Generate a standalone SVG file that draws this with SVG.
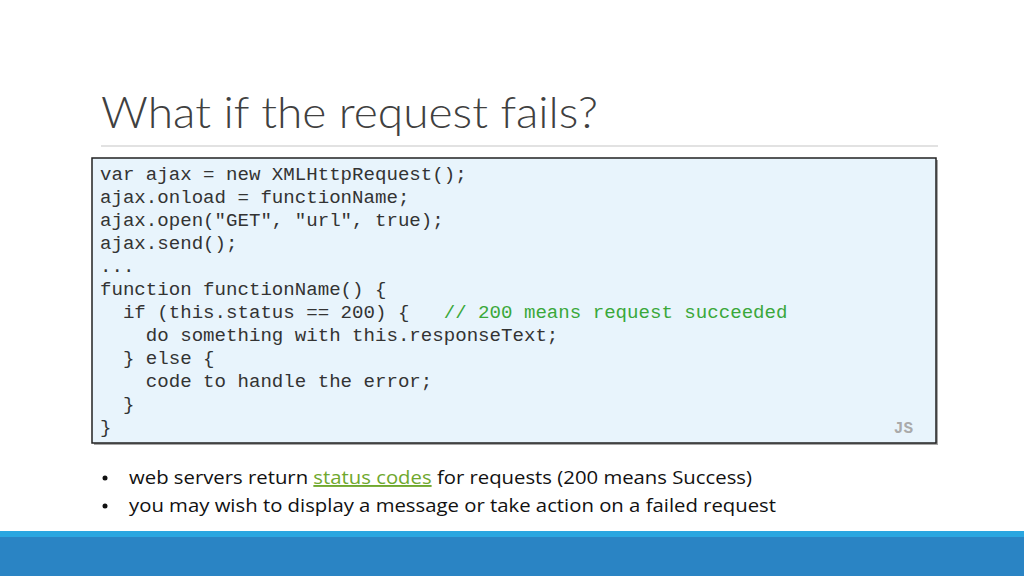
<svg xmlns="http://www.w3.org/2000/svg" width="1024" height="576" viewBox="0 0 1024 576">
<style>
.code{font-family:"Liberation Mono",monospace;font-size:19.1px;fill:#333}
.cm{fill:#3aa83a}
.b{font-family:"Open Sans","Liberation Sans",sans-serif;font-size:19px;fill:#111}
</style>
<rect width="1024" height="576" fill="#fff"/>
<text x="101" y="128" font-family="Lato, sans-serif" font-weight="300" font-size="44" fill="#404040" textLength="497" lengthAdjust="spacingAndGlyphs">What if the request fails?</text>
<line x1="101" y1="146" x2="938" y2="146" stroke="#d8d8d8" stroke-width="1.5"/>
<g id="code">
<rect x="94" y="160" width="844" height="285" fill="#000" opacity="0.35"/>
<rect x="92" y="158" width="844" height="285" fill="#e8f4fc" stroke="#222" stroke-width="1.5"/>
<text class="code" x="100" y="180">var ajax = new XMLHttpRequest();</text>
<text class="code" x="100" y="203">ajax.onload = functionName;</text>
<text class="code" x="100" y="226">ajax.open("GET", "url", true);</text>
<text class="code" x="100" y="249">ajax.send();</text>
<text class="code" x="100" y="272">...</text>
<text class="code" x="100" y="295">function functionName() {</text>
<text class="code" x="100" y="318" xml:space="preserve">  if (this.status == 200) {   <tspan class="cm">// 200 means request succeeded</tspan></text>
<text class="code" x="100" y="341" xml:space="preserve">    do something with this.responseText;</text>
<text class="code" x="100" y="364" xml:space="preserve">  } else {</text>
<text class="code" x="100" y="387" xml:space="preserve">    code to handle the error;</text>
<text class="code" x="100" y="410" xml:space="preserve">  }</text>
<text class="code" x="100" y="433">}</text>
<text x="913" y="433" text-anchor="end" font-family="Liberation Mono, monospace" font-size="16" font-weight="bold" fill="#aaa">JS</text>
</g>
<g id="bullets">
<circle cx="105" cy="478" r="2.5" fill="#111"/>
<circle cx="105" cy="506" r="2.5" fill="#111"/>
<text class="b" x="129" y="484" textLength="623" lengthAdjust="spacingAndGlyphs">web servers return <tspan fill="#6fa82e" text-decoration="underline">status codes</tspan> for requests (200 means Success)</text>
<text class="b" x="129" y="512" textLength="647" lengthAdjust="spacingAndGlyphs">you may wish to display a message or take action on a failed request</text>
</g>
<rect x="0" y="531" width="1024" height="6" fill="#2aa6e0"/>
<rect x="0" y="537" width="1024" height="39" fill="#2a84c4"/>
</svg>
